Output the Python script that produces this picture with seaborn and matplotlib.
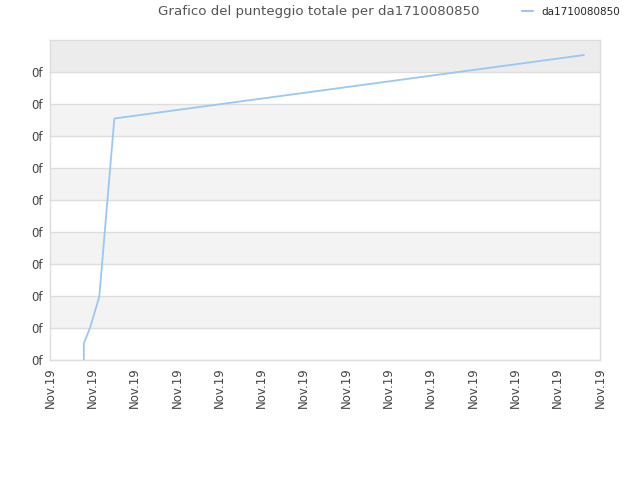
import pandas as pd
import seaborn as sns
import matplotlib.pyplot as plt
import numpy as np

# values (x in tick steps, y in gridline steps)
serie = "da1710080850"
x_pos = [0.80, 0.80, 0.945, 1.165, 1.52, 1.536, 12.62]
y_val = [0.0, 0.52, 1.0, 1.98, 7.53, 7.55, 9.53]
x_labels = ["Nov.19"] * 14
y_labels = ["0f"] * 10

df = pd.DataFrame({"x": x_pos, "y": y_val, "serie": serie})

sns.set_style("white")
plt.rcParams['font.family'] = ['DejaVu Sans']

fig = plt.figure(figsize=(6.4, 4.8), dpi=100)
ax = fig.add_axes([50/640, 1 - 360/480, 550/640, 320/480])

# alternating bands
for i in range(10):
    if i == 9:
        col = "#ececec"
    elif i % 2 == 1:
        col = "#f3f3f3"
    else:
        col = "#ffffff"
    ax.axhspan(i, i + 1, color=col, zorder=0, lw=0)
    ax.axhline(i, color="#dddddd", lw=1, zorder=1)

sns.lineplot(data=df, x="x", y="y", hue="serie", palette=["#99c8f5"],
             linewidth=1.3, sort=False, estimator=None, ax=ax, legend=False, zorder=3)

ax.set_xlim(0, 13)
ax.set_ylim(0, 10)
ax.set_xticks(range(14))
ax.set_xticklabels(x_labels, rotation=90, fontsize=8.5, color="#444444")
ax.set_yticks(range(10))
ax.set_yticklabels(y_labels, fontsize=8.5, color="#444444")
ax.tick_params(length=0, pad=5)
ax.set_xlabel("")
ax.set_ylabel("")
for s in ax.spines.values():
    s.set_color("#dddddd")
    s.set_linewidth(1)

fig.text(319/640, 1 - 12/480, "Grafico del punteggio totale per " + serie,
         ha="center", va="center", fontsize=9.6, color="#555555")
h = plt.Line2D([], [], color="#99c8f5", lw=1.5)
fig.legend([h], [serie], loc="center left", bbox_to_anchor=(513/640, 1 - 12/480),
           frameon=False, fontsize=7.5, handlelength=1.0, handletextpad=0.8)

fig.savefig("out.png", dpi=100)
